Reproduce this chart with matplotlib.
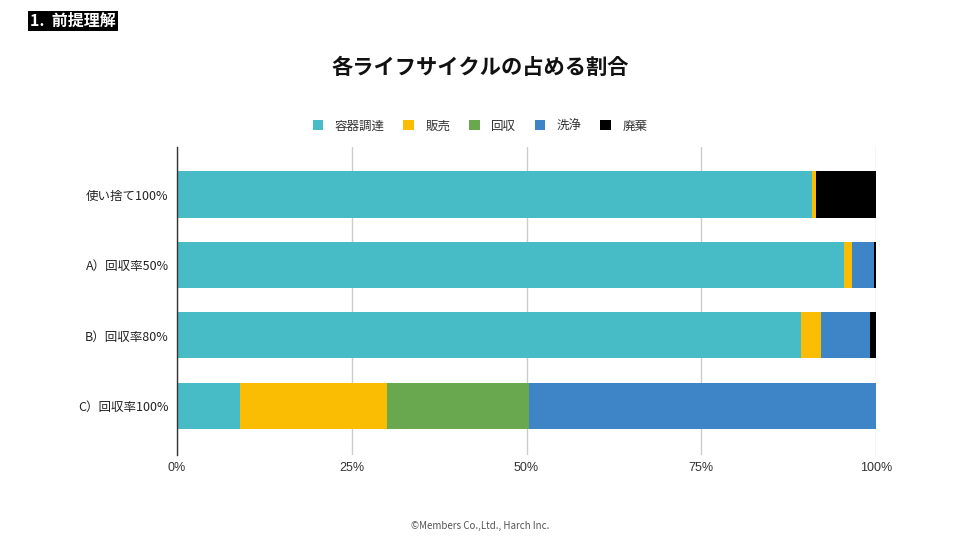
import matplotlib
matplotlib.use("Agg")
import matplotlib.pyplot as plt

plt.rcParams['font.family'] = ['Noto Sans CJK JP', 'DejaVu Sans']

categories = ["使い捨て100%", "A）回収率50%", "B）回収率80%", "C）回収率100%"]
series_names = ["容器調達", "販売", "回収", "洗浄", "廃棄"]
series_values = {
    "容器調達": [90.8, 95.4, 89.3, 9.0],
    "販売":     [0.6, 1.2, 2.9, 21.0],
    "回収":     [0.0, 0.0, 0.0, 20.3],
    "洗浄":     [0.0, 3.1, 6.9, 49.7],
    "廃棄":     [8.6, 0.3, 0.9, 0.0],
}
colors = ["#47BCC6", "#FBBC04", "#6AA84F", "#3D85C6", "#000000"]
xticks = [0, 25, 50, 75, 100]
xtick_labels = ["0%", "25%", "50%", "75%", "100%"]

fig = plt.figure(figsize=(9.6, 5.4), dpi=100)
ax = fig.add_axes([177/960, 1-455/540, 699/960, 308/540])

ypos = list(range(len(categories)))
left = [0.0]*len(categories)
for name, col in zip(series_names, colors):
    vals = series_values[name]
    ax.barh(ypos, vals, left=left, height=0.655, color=col, label=name, zorder=3)
    left = [l+v for l, v in zip(left, vals)]

ax.set_xlim(0, 100)
ax.set_ylim(3.70, -0.675)
ax.set_yticks(ypos)
ax.set_yticklabels(categories, fontsize=9, color="#222222")
ax.set_xticks(xticks)
ax.set_xticklabels(xtick_labels, fontsize=9, color="#333333", family=['Liberation Sans', 'DejaVu Sans'])
ax.tick_params(axis='y', length=0, pad=6)
ax.tick_params(axis='x', length=0, pad=5)
ax.grid(axis='x', color="#CCCCCC", linewidth=1, zorder=0)
for s in ['top', 'right', 'bottom']:
    ax.spines[s].set_visible(False)
ax.spines['left'].set_color("#333333")
ax.spines['left'].set_linewidth(1)
ax.spines['left'].set_zorder(4)

handles, labels = ax.get_legend_handles_labels()
fig.legend(handles, labels, loc='center', bbox_to_anchor=(0.5, 1-126/540), ncol=5,
           frameon=False, fontsize=9, handlelength=0.85, handleheight=0.85,
           handletextpad=0.9, columnspacing=1.5, labelcolor="#333333")

fig.text(0.5, 1-67/540, "各ライフサイクルの占める割合", ha='center', va='center',
         fontsize=15.3, fontweight='bold', color="#111111")

fig.text(30/960, 1-21/540, "1.  前提理解", ha='left', va='center', fontsize=11.5,
         fontweight='bold', color='white',
         bbox=dict(boxstyle='square,pad=0.15', facecolor='black', edgecolor='none'))

fig.text(0.5, 1-526/540, "©Members Co.,Ltd., Harch Inc.", ha='center', va='center',
         fontsize=7, color="#555555")

fig.savefig("out.png", dpi=100)
